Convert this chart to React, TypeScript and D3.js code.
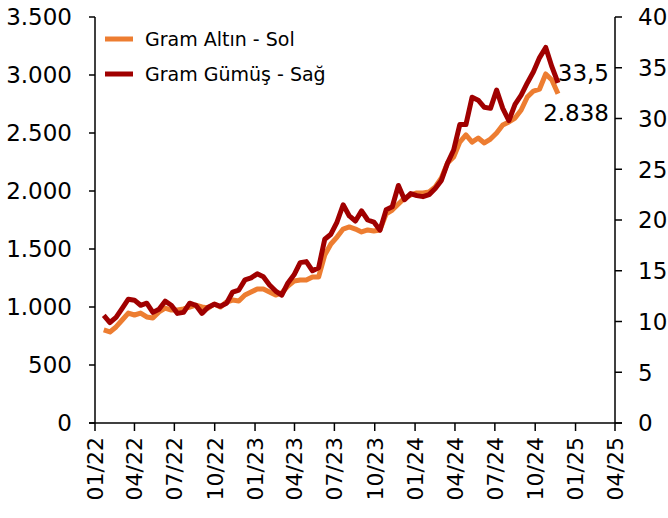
import { useRef, useEffect } from 'react';
import * as d3 from 'd3';

// biweekly closes, Jan 2022 - Nov 2024
const dates = [
    '2022-01-21', '2022-02-04', '2022-02-18', '2022-03-04', '2022-03-18', '2022-04-01', '2022-04-15', '2022-04-29',
    '2022-05-13', '2022-05-27', '2022-06-10', '2022-06-24', '2022-07-08', '2022-07-22', '2022-08-05', '2022-08-19',
    '2022-09-02', '2022-09-16', '2022-09-30', '2022-10-14', '2022-10-28', '2022-11-11', '2022-11-25', '2022-12-09',
    '2022-12-23', '2023-01-06', '2023-01-20', '2023-02-03', '2023-02-17', '2023-03-03', '2023-03-17', '2023-03-31',
    '2023-04-14', '2023-04-28', '2023-05-12', '2023-05-26', '2023-06-09', '2023-06-23', '2023-07-07', '2023-07-21',
    '2023-08-04', '2023-08-18', '2023-09-01', '2023-09-15', '2023-09-29', '2023-10-13', '2023-10-27', '2023-11-10',
    '2023-11-24', '2023-12-08', '2023-12-22', '2024-01-05', '2024-01-19', '2024-02-02', '2024-02-16', '2024-03-01',
    '2024-03-15', '2024-03-29', '2024-04-12', '2024-04-26', '2024-05-10', '2024-05-24', '2024-06-07', '2024-06-21',
    '2024-07-05', '2024-07-19', '2024-08-02', '2024-08-16', '2024-08-30', '2024-09-13', '2024-09-27', '2024-10-11',
    '2024-10-25', '2024-11-08', '2024-11-22',
];

// gram altın, TL (left axis)
const goldValues = [
    802, 785, 828, 888, 948, 931, 948, 914, 905, 957, 991, 974, 974, 983, 1000, 1017,
    1000, 991, 1026, 1000, 1043, 1060, 1052, 1103, 1129, 1155, 1155, 1129, 1103, 1121, 1181, 1224,
    1233, 1233, 1259, 1259, 1448, 1543, 1603, 1672, 1690, 1672, 1647, 1664, 1655, 1664, 1802, 1836,
    1888, 1940, 1966, 1983, 1983, 1991, 2035, 2112, 2241, 2293, 2422, 2483, 2422, 2457, 2414, 2448,
    2500, 2569, 2595, 2629, 2698, 2810, 2862, 2879, 3009, 2957, 2838,
];

// gram gümüş, TL (right axis)
const silverValues = [
    10.6, 9.9, 10.4, 11.3, 12.2, 12.1, 11.6, 11.8, 10.9, 11.2, 12.0, 11.6, 10.8, 10.9, 11.8, 11.6,
    10.8, 11.4, 11.7, 11.5, 11.8, 12.9, 13.1, 14.1, 14.3, 14.7, 14.4, 13.6, 13.0, 12.6, 13.8, 14.6,
    15.8, 15.9, 15.0, 15.3, 18.1, 18.6, 19.8, 21.5, 20.4, 19.9, 20.9, 20.0, 19.8, 19.0, 21.0, 21.3,
    23.4, 22.0, 22.6, 22.4, 22.3, 22.5, 23.1, 23.9, 25.6, 26.9, 29.4, 29.4, 32.1, 31.8, 31.1, 31.0,
    32.8, 31.0, 29.8, 31.4, 32.3, 33.5, 34.6, 36.0, 37.0, 35.1, 33.5,
];

const leftTicks = [0, 500, 1000, 1500, 2000, 2500, 3000, 3500];
const rightTicks = [0, 5, 10, 15, 20, 25, 30, 35, 40];
const xTicks = [
    '2022-01-01', '2022-04-01', '2022-07-01', '2022-10-01', '2023-01-01', '2023-04-01', '2023-07-01',
    '2023-10-01', '2024-01-01', '2024-04-01', '2024-07-01', '2024-10-01', '2025-01-01', '2025-04-01',
];
const seriesNames = ['Gram Altın - Sol', 'Gram Gümüş - Sağ'];
const colors = ['#ED7D31', '#A00000'];

const trLocale = d3.formatLocale({ decimal: ',', thousands: '.', grouping: [3], currency: ['', ''] });
const parse = d3.timeParse('%Y-%m-%d');

const App: React.FC = () => {
    const svgRef = useRef<SVGSVGElement>(null);

    useEffect(() => {
        if (!svgRef.current) return;
        const svg = d3.select(svgRef.current);
        svg.selectAll('*').remove();

        const font = 'DejaVu Sans, sans-serif';
        const left = 95, right = 615, top = 17, bottom = 423;

        const x = d3.scaleTime()
            .domain([parse(xTicks[0])!, parse(xTicks[xTicks.length - 1])!])
            .range([left, right]);
        const yL = d3.scaleLinear().domain([0, 3500]).range([bottom, top]);
        const yR = d3.scaleLinear().domain([0, 40]).range([bottom, top]);

        const parsed = dates.map(d => parse(d)!);

        // axes lines
        const axis = svg.append('g').attr('stroke', '#000').attr('stroke-width', 1.5).attr('fill', 'none');
        axis.append('line').attr('x1', left).attr('x2', left).attr('y1', top).attr('y2', bottom);
        axis.append('line').attr('x1', right).attr('x2', right).attr('y1', top).attr('y2', bottom);
        axis.append('line').attr('x1', left - 6).attr('x2', right + 7).attr('y1', bottom).attr('y2', bottom);

        axis.selectAll('.lt').data(leftTicks).join('line')
            .attr('x1', left - 6).attr('x2', left)
            .attr('y1', d => yL(d)).attr('y2', d => yL(d));
        axis.selectAll('.rt').data(rightTicks).join('line')
            .attr('x1', right).attr('x2', right + 7)
            .attr('y1', d => yR(d)).attr('y2', d => yR(d));
        axis.selectAll('.xt').data(xTicks).join('line')
            .attr('x1', d => x(parse(d)!)).attr('x2', d => x(parse(d)!))
            .attr('y1', bottom).attr('y2', bottom + 8);

        const fmt = trLocale.format(',');
        svg.append('g').selectAll('text').data(leftTicks).join('text')
            .attr('x', 72).attr('y', d => yL(d))
            .attr('dy', '0.36em')
            .attr('text-anchor', 'end')
            .attr('font-family', font).attr('font-size', 23)
            .text(d => fmt(d));
        svg.append('g').selectAll('text').data(rightTicks).join('text')
            .attr('x', 638).attr('y', d => yR(d))
            .attr('dy', '0.36em')
            .attr('font-family', font).attr('font-size', 23)
            .text(d => String(d));

        const xf = d3.timeFormat('%m/%y');
        svg.append('g').selectAll('text').data(xTicks).join('text')
            .attr('transform', d => `translate(${x(parse(d)!)},${bottom + 14}) rotate(-90)`)
            .attr('dy', '0.36em')
            .attr('text-anchor', 'end')
            .attr('font-family', font).attr('font-size', 22)
            .text(d => xf(parse(d)!));

        // series
        const goldLine = d3.line<number>().x((_, i) => x(parsed[i])).y(d => yL(d));
        const silverLine = d3.line<number>().x((_, i) => x(parsed[i])).y(d => yR(d));
        svg.append('path').datum(goldValues)
            .attr('d', goldLine).attr('fill', 'none')
            .attr('stroke', colors[0]).attr('stroke-width', 5).attr('stroke-linejoin', 'round');
        svg.append('path').datum(silverValues)
            .attr('d', silverLine).attr('fill', 'none')
            .attr('stroke', colors[1]).attr('stroke-width', 5).attr('stroke-linejoin', 'round');

        // end labels
        const lastX = x(parsed[parsed.length - 1]);
        const lastS = silverValues[silverValues.length - 1];
        const lastG = goldValues[goldValues.length - 1];
        svg.append('text')
            .attr('x', lastX + 51).attr('y', yR(lastS) - 10).attr('dy', '0.36em')
            .attr('text-anchor', 'end').attr('font-family', font).attr('font-size', 23)
            .text(trLocale.format(',.1f')(lastS));
        svg.append('text')
            .attr('x', lastX + 51).attr('y', yL(lastG) + 19).attr('dy', '0.36em')
            .attr('text-anchor', 'end').attr('font-family', font).attr('font-size', 23)
            .text(fmt(lastG));

        // legend
        const lg = svg.append('g');
        seriesNames.forEach((name, i) => {
            const ly = 39 + i * 35;
            lg.append('line').attr('x1', 105).attr('x2', 133).attr('y1', ly).attr('y2', ly)
                .attr('stroke', colors[i]).attr('stroke-width', 5);
            lg.append('text').attr('x', 145).attr('y', ly).attr('dy', '0.36em')
                .attr('font-family', font).attr('font-size', 19)
                .text(name);
        });
    }, []);

    return (
        <svg ref={svgRef} width={668} height={518}
            style={{ position: 'absolute', left: 0, top: 0, background: '#fff' }} />
    );
};

export default App;
